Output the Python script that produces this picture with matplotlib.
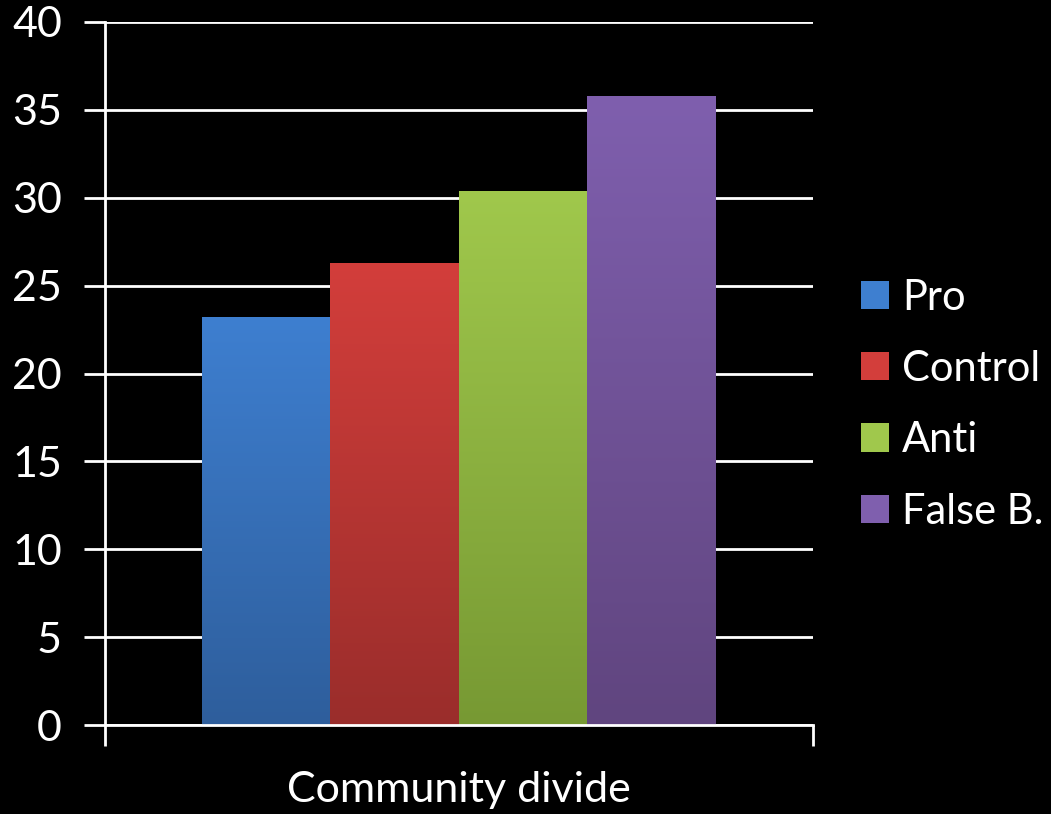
import numpy as np
import matplotlib
matplotlib.use("Agg")
import matplotlib.pyplot as plt
from matplotlib.colors import to_rgb
from matplotlib.patches import Patch

plt.rcParams['font.family'] = ['Lato', 'DejaVu Sans']

series = ["Pro", "Control", "Anti", "False B."]
values = [23.2, 26.3, 30.4, 35.8]
group_label = "Community divide"
yticks = [0, 5, 10, 15, 20, 25, 30, 35, 40]

# top / bottom colours of the gradient fill
top_colors = ["#3e7fd0", "#d33e3b", "#a0c84c", "#7f5fae"]
bottom_colors = ["#2e5e9c", "#9a2d2b", "#779933", "#60457f"]

fig = plt.figure(figsize=(10.51, 8.14), dpi=100, facecolor="black")
ax = fig.add_axes([0.0999, 0.1093, 0.6736, 0.8637])
ax.set_facecolor("black")

width = 0.726 / len(series)
xs = [(i - (len(series) - 1) / 2) * width for i in range(len(series))]
bars = ax.bar(xs, values, width=width, color=top_colors, zorder=2)

for bar, c_top, c_bot in zip(bars, top_colors, bottom_colors):
    t = np.linspace(0, 1, 256)[:, None, None]
    grad = (1 - t) * np.array(to_rgb(c_top)) + t * np.array(to_rgb(c_bot))
    x0 = bar.get_x()
    im = ax.imshow(grad, extent=[x0, x0 + bar.get_width(), 0, bar.get_height()],
                   aspect="auto", origin="upper", zorder=3, interpolation="bilinear")
    im.set_clip_path(bar)

ax.set_xlim(-0.5, 0.5)
ax.set_ylim(0, 40)

# grid lines
ax.set_yticks(yticks)
ax.yaxis.grid(True, color="white", linewidth=2, zorder=1)
ax.set_axisbelow(True)
ax.tick_params(axis="y", colors="white", length=15, width=2, labelsize=31, pad=16)

# category label and boundary ticks
ax.set_xticks([0])
ax.set_xticklabels([group_label])
ax.set_xticks([-0.5, 0.5], minor=True)
ax.tick_params(axis="x", which="major", length=0, labelsize=31, labelcolor="white", pad=33)
ax.tick_params(axis="x", which="minor", length=15, width=2, color="white")

for side in ["top", "right"]:
    ax.spines[side].set_visible(False)
ax.spines["left"].set_color("white")
ax.spines["left"].set_linewidth(2)
ax.spines["bottom"].set_color("white")
ax.spines["bottom"].set_linewidth(2)
ax.spines["bottom"].set_zorder(4)

handles = [Patch(facecolor=c, edgecolor="none") for c in top_colors]
leg = fig.legend(handles, series, loc="center left", bbox_to_anchor=(0.784, 0.503),
                 frameon=False, fontsize=30, labelcolor="white",
                 handlelength=0.67, handleheight=0.67, handletextpad=0.3,
                 labelspacing=0.8)

fig.savefig("out.png", dpi=100, facecolor="black")
